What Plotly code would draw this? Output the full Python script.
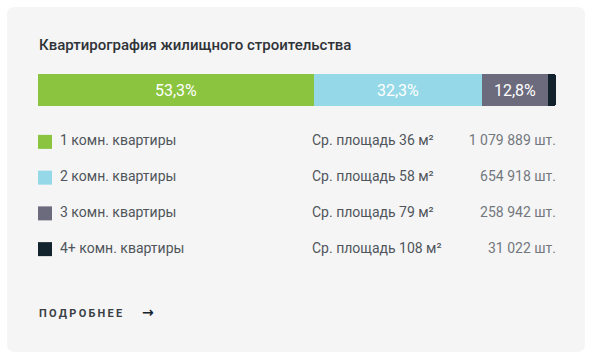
import plotly.graph_objects as go

W, H = 590, 358

categories = ["1 комн. квартиры", "2 комн. квартиры", "3 комн. квартиры", "4+ комн. квартиры"]
counts = [1079889, 654918, 258942, 31022]
avg_area = [36, 58, 79, 108]
colors = ["#8bc53f", "#95d9e8", "#6b6b7d", "#13232d"]
title = "Квартирография жилищного строительства"
more_label = "ПОДРОБНЕЕ"

total = sum(counts)
pct = [c / total * 100 for c in counts]
pct_text = [f"{p:.1f}%".replace(".", ",") if p > 5 else "" for p in pct]
area_text = [f"Ср. площадь {a} м²" for a in avg_area]
count_text = [f"{c:,}".replace(",", " ") + " шт." for c in counts]

def px(x):
    return x / W

def py(y):
    return 1 - y / H

FONT = "Roboto"

fig = go.Figure()

# stacked bar
for i, cat in enumerate(categories):
    fig.add_trace(go.Bar(
        x=[counts[i]], y=[0], orientation="h",
        marker=dict(color=colors[i], line=dict(width=0)),
        text=[pct_text[i]], textposition="inside", insidetextanchor="middle",
        textfont=dict(family=FONT, size=16, color="#ffffff"),
        width=1, hoverinfo="skip", showlegend=False,
        xaxis="x", yaxis="y",
    ))

# legend rows
rows = list(range(len(categories)))
fig.add_trace(go.Scatter(
    x=[45] * len(rows), y=rows, mode="markers",
    marker=dict(symbol="square", size=14, color=colors, line=dict(width=0)),
    hoverinfo="skip", showlegend=False, xaxis="x2", yaxis="y2",
))
fig.add_trace(go.Scatter(
    x=[60] * len(rows), y=rows, mode="text", text=categories,
    textposition="middle right",
    textfont=dict(family=FONT, size=14, color="#50555b"),
    hoverinfo="skip", showlegend=False, xaxis="x2", yaxis="y2",
))
fig.add_trace(go.Scatter(
    x=[312] * len(rows), y=rows, mode="text", text=area_text,
    textposition="middle right",
    textfont=dict(family=FONT, size=14, color="#50555b"),
    hoverinfo="skip", showlegend=False, xaxis="x2", yaxis="y2",
))
fig.add_trace(go.Scatter(
    x=[556] * len(rows), y=rows, mode="text", text=count_text,
    textposition="middle left",
    textfont=dict(family=FONT, size=14, color="#73787e"),
    hoverinfo="skip", showlegend=False, xaxis="x2", yaxis="y2",
))

# card background
x0, x1, y0, y1, r = 7, 585, 7, 352, 8
path = (f"M {px(x0+r)} {py(y0)} L {px(x1-r)} {py(y0)} Q {px(x1)} {py(y0)} {px(x1)} {py(y0+r)} "
        f"L {px(x1)} {py(y1-r)} Q {px(x1)} {py(y1)} {px(x1-r)} {py(y1)} "
        f"L {px(x0+r)} {py(y1)} Q {px(x0)} {py(y1)} {px(x0)} {py(y1-r)} "
        f"L {px(x0)} {py(y0+r)} Q {px(x0)} {py(y0)} {px(x0+r)} {py(y0)} Z")
shapes = [dict(type="path", xref="paper", yref="paper", path=path,
               fillcolor="#f5f5f6", line=dict(width=0), layer="below")]

thin = "\u2009"
annotations = [
    dict(text=title, x=px(37), y=py(45), xref="paper", yref="paper",
         xanchor="left", yanchor="middle", showarrow=False,
         font=dict(family=FONT, size=15, color="#2f3337", weight=500)),
    dict(text="<b>" + thin.join(more_label) + "</b>", x=px(37), y=py(313), xref="paper", yref="paper",
         xanchor="left", yanchor="middle", showarrow=False,
         font=dict(family=FONT, size=11, color="#3a3f44")),
    dict(text="<b>→</b>", x=px(140), y=py(312), xref="paper", yref="paper",
         xanchor="left", yanchor="middle", showarrow=False,
         font=dict(family="DejaVu Sans", size=14, color="#13232d")),
]

fig.update_layout(
    width=W, height=H, margin=dict(l=0, r=0, t=0, b=0),
    paper_bgcolor="#ffffff", plot_bgcolor="rgba(0,0,0,0)",
    barmode="stack", bargap=0, barcornerradius=3,
    shapes=shapes, annotations=annotations,
    xaxis=dict(domain=[px(38), px(556)], range=[0, total], visible=False, fixedrange=True),
    yaxis=dict(domain=[py(106), py(74)], range=[-0.5, 0.5], visible=False, fixedrange=True),
    xaxis2=dict(domain=[0, 1], range=[0, W], visible=False, anchor="y2", fixedrange=True),
    yaxis2=dict(domain=[py(267), py(124)], range=[3.5, -0.5], visible=False, anchor="x2", fixedrange=True),
    uniformtext=dict(minsize=8, mode="show"),
)

fig.write_html("out.html", config={"displayModeBar": False},
               post_script="document.body.style.margin='0';document.body.style.padding='0';")
